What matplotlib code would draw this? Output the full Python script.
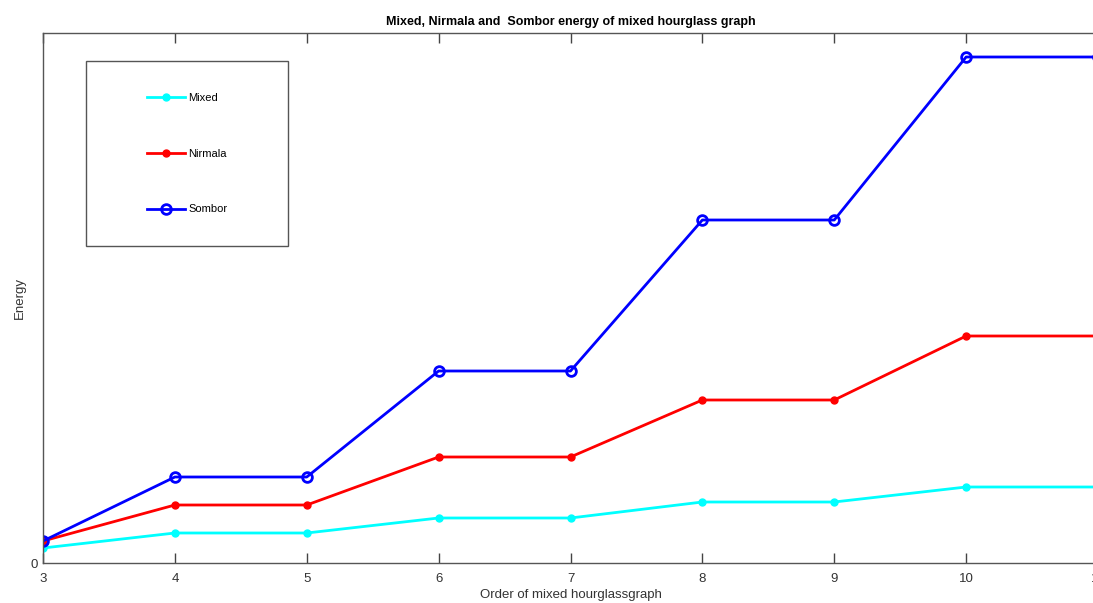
import numpy as np
import matplotlib
matplotlib.use('Agg')
import matplotlib.pyplot as plt
from matplotlib.patches import Rectangle

# order of the mixed hourglass graph
order = [3, 4, 5, 6, 7, 8, 9, 10, 11]
# energies (arbitrary units)
mixed = [15, 30, 30, 45, 45, 61, 61, 76, 76]
nirmala = [22, 58, 58, 106, 106, 163, 163, 227, 227]
sombor = [22, 86, 86, 192, 192, 343, 343, 506, 506]

plt.rcParams['font.family'] = ['Liberation Sans', 'DejaVu Sans']

fig = plt.figure(figsize=(10.93, 6.03), dpi=100)
W, H = 1093.0, 603.0
left, right, top, bottom = 43, 1098, 33, 563
ax = fig.add_axes([left/W, 1 - bottom/H, (right - left)/W, (bottom - top)/H])

ax.plot(order, mixed, '-o', color='#00ffff', lw=2, ms=5, label='Mixed')
ax.plot(order, nirmala, '-o', color='#ff0000', lw=2, ms=5, label='Nirmala')
ax.plot(order, sombor, '-o', color='#0000ff', lw=2, ms=7, mfc='none',
        mew=2, label='Sombor')

ax.set_xlim(3, 11)
ax.set_ylim(0, 530)
ax.set_xticks(order)
ax.set_yticks([0])
ax.tick_params(axis='x', direction='in', top=True, length=7, width=1,
               color='#444444', labelsize=9.5, pad=7, labelcolor='#333333')
ax.tick_params(axis='y', direction='in', length=0, labelsize=9.5, pad=4,
               labelcolor='#333333')
for s in ax.spines.values():
    s.set_color('#555555')
    s.set_linewidth(1)

ax.set_title('Mixed, Nirmala and  Sombor energy of mixed hourglass graph',
             fontsize=9, fontweight='bold', pad=6)
ax.set_xlabel('Order of mixed hourglassgraph', fontsize=9.5, labelpad=3,
              color='#333333')
ax.set_ylabel('Energy', fontsize=9.5, labelpad=3, color='#333333')

# legend box drawn by hand (MATLAB style, wide padding)
ax.add_patch(Rectangle((0.0408, 0.598), 0.1915, 0.349, transform=ax.transAxes,
                       fill=False, edgecolor='#555555', lw=1, zorder=5))
ax.legend(loc='center', bbox_to_anchor=(0.1365, 0.772), frameon=False,
          fontsize=8, labelspacing=4.1, handlelength=3.4, handletextpad=0.3)

fig.savefig('out.png', dpi=100)
